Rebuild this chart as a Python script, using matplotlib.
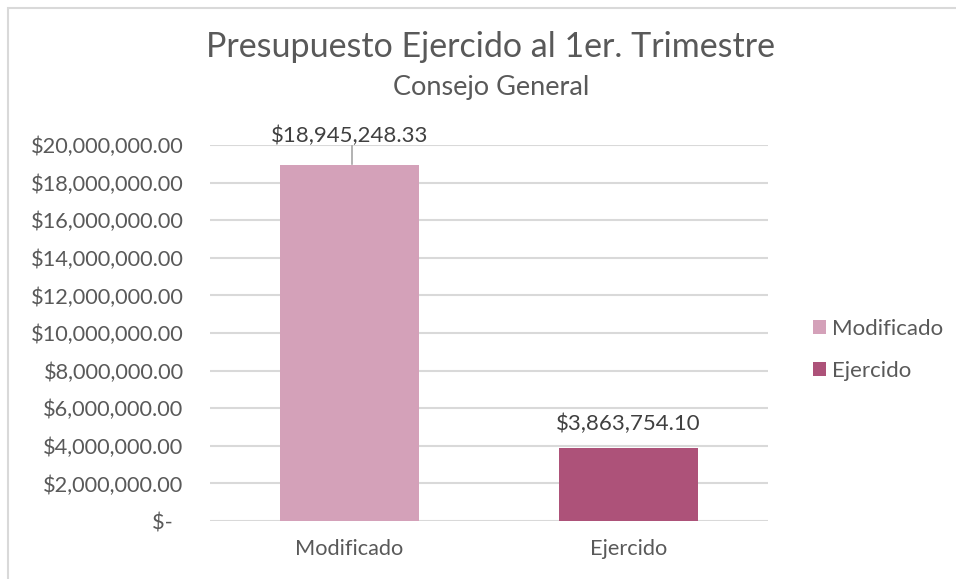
import matplotlib
matplotlib.use("Agg")
import matplotlib.pyplot as plt
from matplotlib.ticker import FuncFormatter, MultipleLocator
from matplotlib.patches import Rectangle, Patch

categories = ["Modificado", "Ejercido"]
values = [18945248.33, 3863754.10]
colors = ["#D4A1B9", "#AD5279"]
title = "Presupuesto Ejercido al 1er. Trimestre"
subtitle = "Consejo General"

plt.rcParams['font.family'] = ['Lato', 'DejaVu Sans']
text_color = "#595959"

fig = plt.figure(figsize=(9.56, 5.79), dpi=100)
W, H = 956, 579
ax = fig.add_axes([210 / W, 1 - 521 / H, 558 / W, (521 - 145) / H])

x = list(range(len(categories)))
bars = ax.bar(x, values, width=0.5, color=colors, zorder=3)
ax.set_xlim(-0.5, 1.5)
ax.set_ylim(0, 20000000)
ax.yaxis.set_major_locator(MultipleLocator(2000000))

def fmt(v, pos):
    if abs(v) < 1:
        return "$-  "
    return "${:,.2f}".format(v)

ax.yaxis.set_major_formatter(FuncFormatter(fmt))
ax.set_xticks(x)
ax.set_xticklabels(categories)
ax.tick_params(axis='both', length=0, labelsize=15.7, colors=text_color)
ax.tick_params(axis='y', pad=19)
ax.tick_params(axis='x', pad=13)
ax.grid(axis='y', color="#D9D9D9", linewidth=1.5, zorder=0)
for s in ax.spines.values():
    s.set_visible(False)

# data labels
lab_y = [19950000, values[1] + 750000]
for i, (v, ly) in enumerate(zip(values, lab_y)):
    ax.text(i, ly, "${:,.2f}".format(v), ha='center', va='bottom',
            fontsize=16, color="#404040", zorder=4)
# leader line for first label
ax.plot([0.01, 0.01], [values[0] + 50000, 19950000], color="#A6A6A6",
        linewidth=1.2, zorder=4, clip_on=False)

fig.text(491 / W, 1 - 47 / H, title, ha='center', va='center', fontsize=24.5, color=text_color)
fig.text(491 / W, 1 - 88 / H, subtitle, ha='center', va='center', fontsize=19.5, color=text_color)

handles = [Patch(facecolor=c, edgecolor='none') for c in colors]
leg = fig.legend(handles, categories, loc='center left', bbox_to_anchor=(793 / W, 1 - 350 / H),
                 frameon=False, fontsize=16, handlelength=0.6, handleheight=0.6,
                 handletextpad=0.25, labelspacing=1.0)
for t in leg.get_texts():
    t.set_color(text_color)

# chart border
fig.patches.append(Rectangle((8 / W, -0.1), 1.2, 1 - 8 / H + 0.1, transform=fig.transFigure,
                             fill=False, edgecolor="#D9D9D9", linewidth=1.5))

fig.savefig("out.png", dpi=100)
